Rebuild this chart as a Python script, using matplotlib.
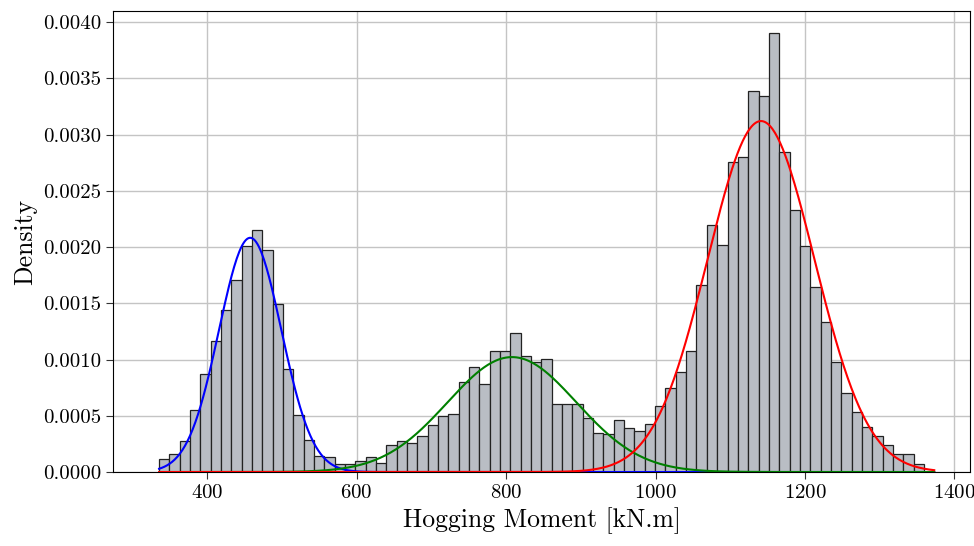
import numpy as np
import matplotlib
matplotlib.use("Agg")
import matplotlib.pyplot as plt

# histogram (density)
bin_start = 335.7
bin_width = 13.83
density = [
    0.000113, 0.000160, 0.000279, 0.000552, 0.000873, 0.001167, 0.001443, 0.001710,
    0.002007, 0.002150, 0.001978, 0.001490, 0.000920, 0.000505, 0.000285, 0.000143,
    0.000137, 0.000075, 0.000071, 0.000100, 0.000137, 0.000083, 0.000240, 0.000276,
    0.000255, 0.000324, 0.000419, 0.000502, 0.000514, 0.000799, 0.000938, 0.000784,
    0.001080, 0.001080, 0.001235, 0.001036, 0.000977, 0.001007, 0.000606, 0.000606,
    0.000606, 0.000478, 0.000345, 0.000335, 0.000463, 0.000395, 0.000365, 0.000425,
    0.000588, 0.000751, 0.000885, 0.001072, 0.001666, 0.002197, 0.002020, 0.002756,
    0.002803, 0.003385, 0.003347, 0.003905, 0.002848, 0.002328, 0.002010, 0.001642,
    0.001330, 0.000980, 0.000701, 0.000537, 0.000398, 0.000324, 0.000240, 0.000157,
    0.000157, 0.000068,
]

# fitted mixture components
means = [457.6, 807.9, 1141.2]
sigmas = [41.7, 86.2, 71.5]
weights = [0.2177, 0.2208, 0.5593]
colors = ["blue", "green", "red"]
x_lo, x_hi = 335.7, 1373.0

plt.rcParams["font.family"] = ["cmr10", "DejaVu Serif"]
plt.rcParams["axes.formatter.use_mathtext"] = True
plt.rcParams["mathtext.fontset"] = "cm"

fig = plt.figure(figsize=(9.74, 5.46), dpi=100)
ax = fig.add_axes([0.116, 0.1355, 0.88, 0.8445])

edges = bin_start + bin_width * np.arange(len(density))
ax.bar(edges, density, width=bin_width, align="edge", color="#b9bdc4",
       edgecolor="#222222", linewidth=0.9, zorder=2)

xs = np.linspace(x_lo, x_hi, 600)
for m, s, w, c in zip(means, sigmas, weights, colors):
    pdf = w / (s * np.sqrt(2 * np.pi)) * np.exp(-0.5 * ((xs - m) / s) ** 2)
    ax.plot(xs, pdf, color=c, linewidth=1.5, zorder=3)

ax.set_xlim(274, 1421)
ax.set_ylim(0, 0.0041)
ax.set_xticks([400, 600, 800, 1000, 1200, 1400])
ax.set_yticks(np.arange(0, 0.00401, 0.0005))
ax.yaxis.set_major_formatter(matplotlib.ticker.FormatStrFormatter("%.4f"))
ax.grid(True, color="#c4c4c4", linewidth=1.0, zorder=0)
ax.set_axisbelow(True)
ax.tick_params(labelsize=15, length=5, width=0.8, color="#333333")
for sp in ax.spines.values():
    sp.set_linewidth(0.8)
    sp.set_color("black")

ax.set_xlabel("Hogging Moment [kN.m]", fontsize=18.5)
ax.set_ylabel("Density", fontsize=18.5)

fig.savefig("out.png", dpi=100)
